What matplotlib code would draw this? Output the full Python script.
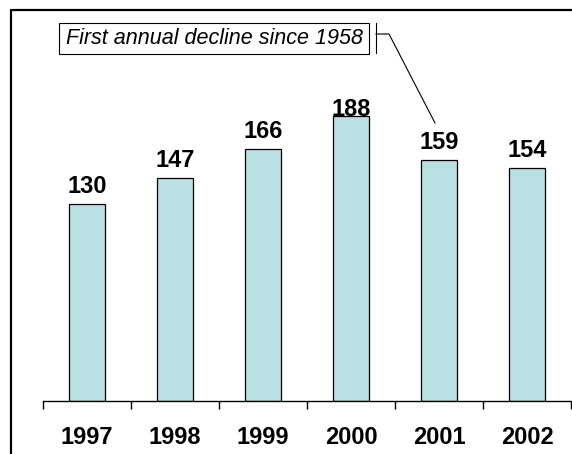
import matplotlib.pyplot as plt
from matplotlib.lines import Line2D
from matplotlib.patches import Rectangle
from matplotlib.transforms import offset_copy

# Annual totals
years = ["1997", "1998", "1999", "2000", "2001", "2002"]
values = [130, 147, 166, 188, 159, 154]
note = "First annual decline since 1958"

W, H = 572, 454
fig = plt.figure(figsize=(W / 100, H / 100), dpi=100)
plt.rcParams['font.family'] = ['Liberation Sans', 'DejaVu Sans']


def px(x, y):
    """Pixel position (from top-left) to figure fraction."""
    return x / W, 1 - y / H


# plot area: baseline at y=401, 88 px per category
ymax = 200
ax = fig.add_axes([43 / W, 1 - 401 / H, 528 / W, (ymax * 1.516) / H])
x = list(range(len(years)))
ax.bar(x, values, width=0.41, color="#BAE0E3", edgecolor="black", linewidth=0.9)
ax.set_xlim(-0.5, len(years) - 0.5)
ax.set_ylim(0, ymax)

for s in ["top", "right", "left"]:
    ax.spines[s].set_visible(False)
ax.spines["bottom"].set_linewidth(1.0)
ax.set_yticks([])

# tick marks between categories, labels at the centres
ax.set_xticks([i - 0.5 for i in range(len(years) + 1)])
ax.set_xticklabels([])
ax.tick_params(axis="x", which="major", direction="out", length=6, width=1.0)
ax.set_xticks(x, minor=True)
ax.set_xticklabels(years, minor=True, fontsize=17, fontweight="bold")
ax.tick_params(axis="x", which="minor", length=0, pad=18)

# value labels, kept inside the plot area
lab_units = 18
for i, v in zip(x, values):
    if v + lab_units > ymax:
        ax.text(i, ymax, str(v), ha="center", va="top", fontsize=17,
                fontweight="bold")
    else:
        tr = offset_copy(ax.transData, fig=fig, x=0, y=6, units="dots")
        ax.text(i, v, str(v), ha="center", va="bottom", fontsize=17,
                fontweight="bold", transform=tr)

# outer frame (left and top edges)
fx0, fy0 = px(11, 454)
fx1, fy1 = px(11, 10)
fx2, _ = px(572, 10)
fig.add_artist(Line2D([fx0, fx1, fx2], [fy0, fy1, fy1], color="black",
                      linewidth=1.6, transform=fig.transFigure))

# callout box
rx, ry = px(59, 54)
fig.add_artist(Rectangle((rx, ry), 310 / W, 31 / H, facecolor="white",
                         edgecolor="black", linewidth=0.8,
                         transform=fig.transFigure))
bx, by = px(215, 39)
fig.text(bx, by, note, ha="center", va="center", fontsize=15.5, style="italic")

# bracket and leader to 2001
lx0, ly0 = px(376, 23)
lx1, ly1 = px(376, 53)
fig.add_artist(Line2D([lx0, lx1], [ly0, ly1], color="black", linewidth=0.8,
                      transform=fig.transFigure))
hx0, hy = px(376, 34)
hx1, _ = px(389, 34)
ex, ey = px(435, 123)
fig.add_artist(Line2D([hx0, hx1, ex], [hy, hy, ey], color="black",
                      linewidth=0.8, transform=fig.transFigure))

fig.savefig("out.png", dpi=100)
